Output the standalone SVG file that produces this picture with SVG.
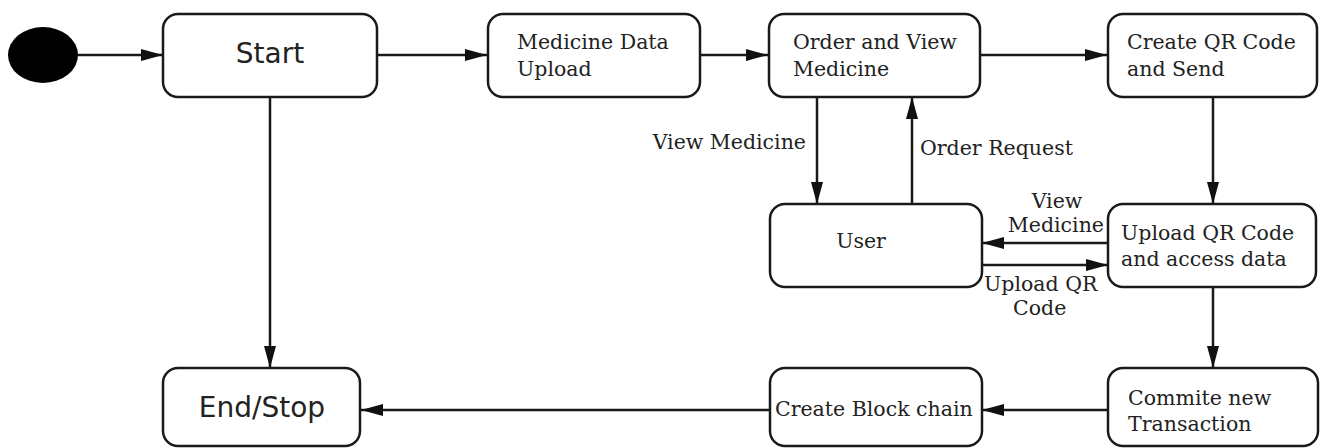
<svg xmlns="http://www.w3.org/2000/svg" width="1321" height="448" viewBox="0 0 1321 448">
<style>
.box{fill:#fff;stroke:#1a1a1a;stroke-width:2.5}
.ln{stroke:#1a1a1a;stroke-width:2.5;fill:none}
.sans{font-family:"DejaVu Sans","Liberation Sans",Arial,sans-serif;font-size:28px;fill:#222}
.serif{font-family:"DejaVu Serif","Liberation Serif","Times New Roman",serif;font-size:20.5px;fill:#222}
</style>
<defs>
<marker id="ah" viewBox="0 0 22 12" refX="22" refY="6" markerWidth="22" markerHeight="12" markerUnits="userSpaceOnUse" orient="auto">
<path d="M0,0 L22,6 L0,12 Z" fill="#111"/>
</marker>
</defs>
<rect width="1321" height="448" fill="#fff"/>
<g id="connectors">
<line class="ln" x1="78" y1="55" x2="163" y2="55" marker-end="url(#ah)"/>
<line class="ln" x1="377" y1="55" x2="487" y2="55" marker-end="url(#ah)"/>
<line class="ln" x1="700" y1="55" x2="768" y2="55" marker-end="url(#ah)"/>
<line class="ln" x1="980" y1="55" x2="1107" y2="55" marker-end="url(#ah)"/>
<line class="ln" x1="270" y1="97" x2="270" y2="368" marker-end="url(#ah)"/>
<line class="ln" x1="817" y1="97" x2="817" y2="204" marker-end="url(#ah)"/>
<line class="ln" x1="912" y1="204" x2="912" y2="97" marker-end="url(#ah)"/>
<line class="ln" x1="1213" y1="97" x2="1213" y2="204" marker-end="url(#ah)"/>
<line class="ln" x1="1108" y1="243" x2="982" y2="243" marker-end="url(#ah)"/>
<line class="ln" x1="982" y1="265" x2="1108" y2="265" marker-end="url(#ah)"/>
<line class="ln" x1="1213" y1="287" x2="1213" y2="368" marker-end="url(#ah)"/>
<line class="ln" x1="1108" y1="410" x2="982" y2="410" marker-end="url(#ah)"/>
<line class="ln" x1="770" y1="410" x2="361" y2="410" marker-end="url(#ah)"/>
<text class="serif" x="806" y="149" text-anchor="end">View Medicine</text>
<text class="serif" x="920" y="155">Order Request</text>
<text class="serif" x="1057" y="208" text-anchor="middle">View</text>
<text class="serif" x="1104" y="232" text-anchor="end">Medicine</text>
<text class="serif" x="984" y="291">Upload QR</text>
<text class="serif" x="1013" y="315">Code</text>
</g>
<g id="initial"><ellipse cx="43" cy="55" rx="35" ry="28" fill="#000"/></g>
<g id="start"><rect class="box" x="163" y="14" width="214" height="83" rx="15"/><text class="sans" x="270" y="63" text-anchor="middle">Start</text></g>
<g id="upload"><rect class="box" x="488" y="14" width="212" height="83" rx="15"/><text class="serif" x="517" y="49">Medicine Data</text><text class="serif" x="517" y="76">Upload</text></g>
<g id="order"><rect class="box" x="769" y="14" width="211" height="83" rx="15"/><text class="serif" x="793" y="49">Order and View</text><text class="serif" x="793" y="76">Medicine</text></g>
<g id="createqr"><rect class="box" x="1108" y="14" width="209" height="83" rx="15"/><text class="serif" x="1127" y="49">Create QR Code</text><text class="serif" x="1127" y="76">and Send</text></g>
<g id="user"><rect class="box" x="770" y="204" width="212" height="83" rx="15"/><text class="serif" x="861" y="248" text-anchor="middle">User</text></g>
<g id="uploadqr"><rect class="box" x="1108" y="204" width="208" height="83" rx="15"/><text class="serif" x="1121" y="240">Upload QR Code</text><text class="serif" x="1121" y="266">and access data</text></g>
<g id="end"><rect class="box" x="163" y="368" width="197" height="78" rx="15"/><text class="sans" x="262" y="417" text-anchor="middle">End/Stop</text></g>
<g id="block"><rect class="box" x="770" y="368" width="212" height="78" rx="15"/><text class="serif" x="775" y="416">Create Block chain</text></g>
<g id="commit"><rect class="box" x="1108" y="368" width="210" height="78" rx="15"/><text class="serif" x="1128" y="405">Commite new</text><text class="serif" x="1128" y="431">Transaction</text></g>
</svg>
